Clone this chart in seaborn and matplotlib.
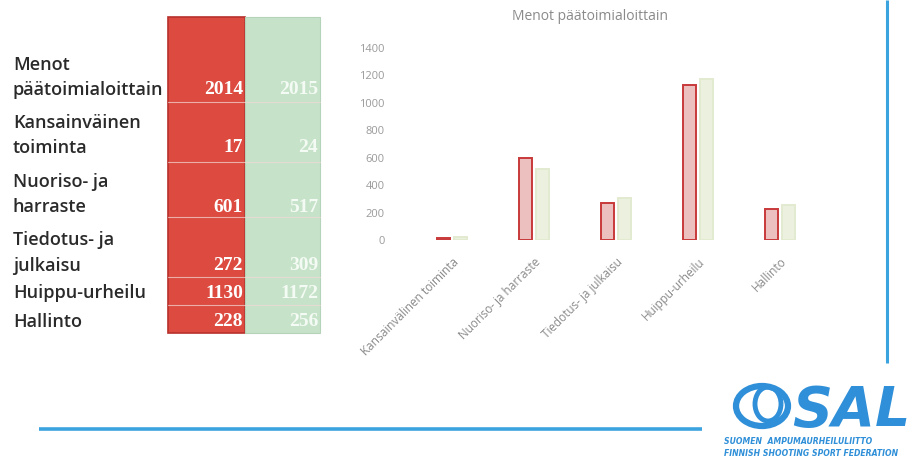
import matplotlib
matplotlib.use("Agg")
import matplotlib.pyplot as plt
import matplotlib.patches as mpatches
import seaborn as sns
import pandas as pd

# data
years = ["2014", "2015"]
categories = ["Kansainvälinen toiminta", "Nuoriso- ja harraste", "Tiedotus- ja julkaisu",
              "Huippu-urheilu", "Hallinto"]
menot_2014 = [17, 601, 272, 1130, 228]
menot_2015 = [24, 517, 309, 1172, 256]
row_labels = ["Menot\npäätoimialoittain", "Kansainväinen\ntoiminta", "Nuoriso- ja\nharraste",
              "Tiedotus- ja\njulkaisu", "Huippu-urheilu", "Hallinto"]
yticks = [0, 200, 400, 600, 800, 1000, 1200, 1400]

df = pd.DataFrame({
    "cat": categories * 2,
    "year": [years[0]] * len(categories) + [years[1]] * len(categories),
    "value": menot_2014 + menot_2015,
})

sns.set_style("white")
plt.rcParams["font.family"] = ["Open Sans", "DejaVu Sans"]

W, H = 915, 463
fig = plt.figure(figsize=(W / 100, H / 100), dpi=100)

# background axes in pixel coords for table, lines and logo
bg = fig.add_axes([0, 0, 1, 1])
bg.set_xlim(0, W)
bg.set_ylim(H, 0)
bg.axis("off")

# table columns
red = "#dc4a40"
green = "#c6e3c9"
col_x = [168, 245, 320]
row_edges = [17, 102, 162, 217, 277, 305, 333]
bg.add_patch(mpatches.Rectangle((col_x[0], row_edges[0]), col_x[1] - col_x[0],
                                row_edges[-1] - row_edges[0], color=red, ec="#b8302c", lw=1.2))
bg.add_patch(mpatches.Rectangle((col_x[1], row_edges[0]), col_x[2] - col_x[1],
                                row_edges[-1] - row_edges[0], color=green, ec="#b5d3b8", lw=0.8))
for yy in row_edges[1:-1]:
    bg.plot([col_x[0], col_x[2]], [yy, yy], color="#f3d9d6", lw=0.8, alpha=0.7)

label_y = [(65, 90), (123, 148), (182, 207), (240, 266), (293,), (322,)]
for lab, ys in zip(row_labels, label_y):
    for line, yy in zip(lab.split("\n"), ys):
        bg.text(13, yy, line, fontsize=13, fontweight="semibold", color="#2a2a2a",
                va="center", ha="left")

table_vals = list(zip(menot_2014, menot_2015))
cell_y = [90, 148, 207, 266, 293, 322]
for i, yy in enumerate(cell_y):
    if i == 0:
        a, b = years
    else:
        a, b = table_vals[i - 1]
    bg.text(col_x[1] - 2, yy, str(a), fontsize=14, fontweight="bold", color="white",
            ha="right", va="center", family=["Liberation Serif", "DejaVu Serif"])
    bg.text(col_x[2] - 2, yy, str(b), fontsize=14, fontweight="bold", color="#f4faf4",
            ha="right", va="center", family=["Liberation Serif", "DejaVu Serif"])

# blue decorative lines
blue = "#3ba3dd"
bg.plot([887, 887], [0, 363], color=blue, lw=2.2, solid_capstyle="butt")
bg.plot([39, 702], [429, 429], color=blue, lw=2.6, solid_capstyle="butt")

# logo
logo_blue = "#2f8fd8"
bg.add_patch(mpatches.Ellipse((762, 406), 52, 40, fill=False, ec=logo_blue, lw=4.5))
bg.add_patch(mpatches.Ellipse((768, 404), 26, 34, fill=False, ec=logo_blue, lw=3.5))
bg.text(792, 426, "SAL", fontsize=40, fontweight="bold", style="italic", color=logo_blue,
        ha="left", va="baseline", family=["DejaVu Sans"])
bg.text(724, 442, "SUOMEN  AMPUMAURHEILULIITTO", fontsize=5.6, fontweight="bold", style="italic",
        color=logo_blue, ha="left", va="center", family=["DejaVu Sans"])
bg.text(724, 454, "FINNISH SHOOTING SPORT FEDERATION", fontsize=5.6, fontweight="bold", style="italic",
        color=logo_blue, ha="left", va="center", family=["DejaVu Sans"])

# bar chart
ax = fig.add_axes([411 / W, 1 - 240 / H, (821 - 411) / W, (240 - 48) / H])
ax.patch.set_alpha(0)
sns.barplot(data=df, x="cat", y="value", hue="year", order=categories, hue_order=years,
            width=0.4, gap=0.2, palette=["#f4b9b9", "#eef3dc"], ax=ax, legend=False)
edges = ["#c8393a", "#e2ead0"]
for cont, ec in zip(ax.containers, edges):
    for p in cont:
        p.set_edgecolor(ec)
        p.set_linewidth(1.4)

ax.set_ylim(0, 1400)
ax.set_yticks(yticks)
ax.set_yticklabels([str(t) for t in yticks], color="#9a9a9a", fontsize=8)
ax.set_xticks(range(len(categories)))
ax.set_xticklabels(categories, rotation=45, ha="right", rotation_mode="anchor",
                   color="#8a8a8a", fontsize=8.5)
ax.tick_params(axis="both", length=0)
ax.tick_params(axis="y", pad=19)
ax.tick_params(axis="x", pad=11)
ax.set_xlabel("")
ax.set_ylabel("")
for s in ax.spines.values():
    s.set_visible(False)
fig.text(590 / W, 1 - 17 / H, "Menot päätoimialoittain", fontsize=10, color="#8a8a8a",
         ha="center", va="center")

fig.savefig("out.png", dpi=100)
